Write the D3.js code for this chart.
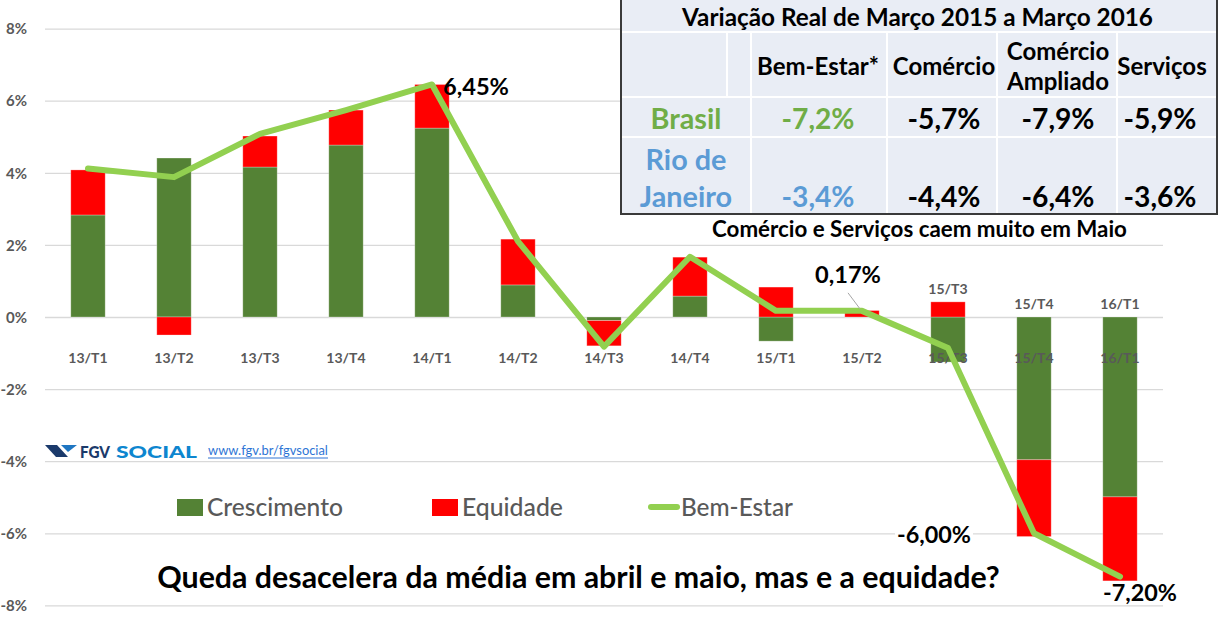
<!DOCTYPE html>
<html><head><meta charset="utf-8">
<script src="https://cdn.jsdelivr.net/npm/d3@7"></script>
<style>
html,body{margin:0;padding:0;background:#fff;}
svg{display:block;font-family:Lato,"Open Sans",sans-serif;}
</style></head><body>
<svg id="c" width="1229" height="617"></svg>
<script>
// ---------- DATA ----------
const categories = ["13/T1","13/T2","13/T3","13/T4","14/T1","14/T2","14/T3","14/T4","15/T1","15/T2","15/T3","15/T4","16/T1"];
const crescimento = [2.83, 4.41, 4.16, 4.77, 5.24, 0.89, -0.10, 0.58, -0.67, 0.00, -1.25, -3.96, -4.99];
const equidade    = [1.25, -0.50, 0.86, 0.97, 1.21, 1.27, -0.70, 1.08, 0.83, 0.18, 0.42, -2.13, -2.33];
const bemEstar    = [4.12, 3.88, 5.08, 5.74, 6.45, 2.10, -0.82, 1.67, 0.17, 0.17, -0.86, -6.00, -7.20];
const yTicks = [-8, -6, -4, -2, 0, 2, 4, 6, 8];
const seriesNames = ["Crescimento", "Equidade", "Bem-Estar"];
const labeledPoints = ["14/T1", "15/T2", "15/T4", "16/T1"];
const topLabelCats = ["15/T3", "15/T4", "16/T1"];
const tableTitle = "Variação Real de Março 2015 a Março 2016";
const tableCols = ["Bem-Estar*", "Comércio", "Comércio Ampliado", "Serviços"];
const tableRows = ["Brasil", "Rio de Janeiro"];
const brasilVals = [-7.2, -5.7, -7.9, -5.9];
const rioVals = [-3.4, -4.4, -6.4, -3.6];
const tableNote = "Comércio e Serviços caem muito em Maio";
const footerText = "Queda desacelera da média em abril e maio, mas e a equidade?";
const logoWords = ["FGV", "SOCIAL"];
const linkText = "www.fgv.br/fgvsocial";

// ---------- SETUP ----------
const svg = d3.select("#c");
const FONT = 'Lato, "Open Sans", sans-serif';
const loc = d3.formatLocale({decimal: ",", thousands: ".", grouping: [3], currency: ["R$", ""], minus: "-"});
const f2 = loc.format(".2f"), f1 = loc.format(".1f");

function fit(sel, w) {
  sel.each(function () {
    const fs = parseFloat(this.getAttribute("font-size"));
    const l = this.getComputedTextLength();
    if (l > 0) this.setAttribute("font-size", (fs * w / l).toFixed(2));
  });
  return sel;
}

const x = d3.scaleBand().domain(categories).range([45, 1163]).paddingInner(0.6).paddingOuter(0.3);
const y = d3.scaleLinear().domain([-8, 8]).range([605.4, 28.6]);
const cx = c => x(c) + x.bandwidth() / 2;

// gridlines + y labels
const gy = svg.append("g").attr("transform", "translate(45,0)")
  .call(d3.axisLeft(y).tickValues(yTicks).tickSize(-(1163 - 45)).tickFormat(d => d + "%"));
gy.attr("font-family", null).attr("font-size", null);
gy.select(".domain").remove();
gy.selectAll(".tick line").attr("stroke", "#D9D9D9").attr("stroke-width", 1.3);
gy.selectAll(".tick text").attr("x", -18).attr("dy", "0.35em")
  .attr("fill", "#595959").attr("font-size", 15).attr("font-weight", 700).attr("font-family", FONT);

// stacked bars
const stackData = categories.map((c, i) => ({cat: c, Crescimento: crescimento[i], Equidade: equidade[i]}));
const stacked = d3.stack().keys(["Crescimento", "Equidade"]).offset(d3.stackOffsetDiverging)(stackData);
const colors = {Crescimento: "#548235", Equidade: "#FF0000", "Bem-Estar": "#92D050"};
svg.append("g").selectAll("g").data(stacked).join("g").attr("fill", d => colors[d.key])
  .selectAll("rect").data(d => d).join("rect")
  .attr("x", d => x(d.data.cat)).attr("width", x.bandwidth())
  .attr("y", d => y(Math.max(d[0], d[1])))
  .attr("height", d => Math.abs(y(d[0]) - y(d[1])))
  .attr("stroke", "#ffffff").attr("stroke-opacity", 0.35).attr("stroke-width", 0.8);

// category axis labels
const gx = svg.append("g").attr("transform", "translate(0,350)")
  .call(d3.axisBottom(x).tickSize(0).tickPadding(0));
gx.attr("font-family", null).attr("font-size", null);
gx.select(".domain").remove();
gx.selectAll(".tick text").attr("y", 8).attr("dy", "0.35em")
  .attr("fill", "#595959").attr("font-size", 14).attr("font-weight", 700).attr("font-family", FONT);

// duplicated labels above last bars
svg.append("g").selectAll("text").data(topLabelCats).join("text")
  .attr("x", c => cx(c))
  .attr("y", c => {
    const i = categories.indexOf(c);
    const top = Math.max(0, stacked[0][i][1], stacked[1][i][1]);
    return y(top) - 13;
  })
  .attr("dy", "0.35em").attr("text-anchor", "middle")
  .attr("fill", "#595959").attr("font-size", 14).attr("font-weight", 700).text(c => c);

// line
const line = d3.line().x((d, i) => cx(categories[i])).y(d => y(d));
svg.append("path").datum(bemEstar).attr("d", line).attr("fill", "none")
  .attr("stroke", colors["Bem-Estar"]).attr("stroke-width", 6)
  .attr("stroke-linejoin", "round").attr("stroke-linecap", "round");

// line data labels
const lblPos = {
  "14/T1": {dx: 11, dy: 2, anchor: "start"},
  "15/T2": {dx: -14, dy: -36, anchor: "middle", leader: true},
  "15/T4": {dx: -63, dy: 2, anchor: "end", bg: true},
  "16/T1": {dx: 20, dy: 16, anchor: "middle"}
};
const gl = svg.append("g");
labeledPoints.forEach(c => {
  const i = categories.indexOf(c);
  const px = cx(c), py = y(bemEstar[i]), p = lblPos[c];
  if (p.leader) {
    gl.append("line").attr("x1", px - 14).attr("y1", py - 18).attr("x2", px - 2).attr("y2", py - 2)
      .attr("stroke", "#A6A6A6").attr("stroke-width", 1);
  }
  const t = gl.append("text").attr("x", px + p.dx).attr("y", py + p.dy).attr("dy", "0.35em")
    .attr("text-anchor", p.anchor).attr("font-size", 22).attr("font-weight", 700).attr("fill", "#000")
    .text(f2(bemEstar[i]) + "%");
  fit(t, bemEstar[i] < 0 ? 74 : 66);
  if (p.bg) {
    const b = t.node().getBBox();
    gl.insert("rect", () => t.node()).attr("x", b.x - 2).attr("y", b.y + 2).attr("width", b.width + 4)
      .attr("height", b.height - 4).attr("fill", "#fff");
  }
});

// legend
const lg = svg.append("g");
lg.append("rect").attr("x", 177).attr("y", 499).attr("width", 26).attr("height", 17).attr("fill", colors.Crescimento);
lg.append("rect").attr("x", 432).attr("y", 499).attr("width", 26).attr("height", 17).attr("fill", colors.Equidade);
lg.append("line").attr("x1", 651).attr("x2", 677).attr("y1", 507).attr("y2", 507)
  .attr("stroke", colors["Bem-Estar"]).attr("stroke-width", 6).attr("stroke-linecap", "round");
const legX = [207, 462, 681], legW = [136, 101, 112];
seriesNames.forEach((s, k) => {
  fit(lg.append("text").attr("x", legX[k]).attr("y", 507).attr("dy", "0.35em")
    .attr("font-size", 24).attr("font-weight", 500).attr("fill", "#595959").text(s), legW[k]);
});

// logo
const lo = svg.append("g");
lo.append("polygon").attr("points", "45,445 57,445 68,457 56,457").attr("fill", "#1B3A6B");
lo.append("polygon").attr("points", "61,445 77,445 68,452").attr("fill", "#1F76C2");
lo.append("text").attr("x", 80).attr("y", 457.5).attr("font-size", 17).attr("font-weight", 900)
  .attr("fill", "#1B3A6B").attr("textLength", 30).attr("lengthAdjust", "spacingAndGlyphs").text(logoWords[0]);
lo.append("text").attr("x", 116).attr("y", 457.5).attr("font-size", 17).attr("font-weight", 900)
  .attr("fill", "#0D86CF").attr("textLength", 81).attr("lengthAdjust", "spacingAndGlyphs").text(logoWords[1]);
fit(lo.append("text").attr("x", 208).attr("y", 455).attr("font-size", 13)
  .attr("fill", "#2E75D5").text(linkText), 120);
lo.append("line").attr("x1", 208).attr("x2", 328).attr("y1", 458).attr("y2", 458).attr("stroke", "#2E75D5").attr("stroke-width", 1);

// footer
fit(svg.append("text").attr("x", 578.5).attr("y", 577).attr("dy", "0.35em").attr("text-anchor", "middle")
  .attr("font-size", 28).attr("font-weight", 700).attr("fill", "#000").text(footerText), 843);

// ---------- TABLE ----------
const tb = svg.append("g");
const colEdges = [621, 751, 887, 997, 1117, 1217];
tb.append("rect").attr("x", 621).attr("y", 0).attr("width", 596).attr("height", 214).attr("fill", "#E9EDF5");
[32, 97, 137].forEach(yy => tb.append("line").attr("x1", 621).attr("x2", 1217).attr("y1", yy).attr("y2", yy)
  .attr("stroke", "#fff").attr("stroke-width", 2));
colEdges.slice(1, -1).forEach(xx => tb.append("line").attr("x1", xx).attr("x2", xx).attr("y1", 32).attr("y2", 214)
  .attr("stroke", "#fff").attr("stroke-width", 2));
tb.append("line").attr("x1", 727).attr("x2", 727).attr("y1", 32).attr("y2", 97).attr("stroke", "#fff").attr("stroke-width", 2);
tb.append("path").attr("d", "M621,0 V214 H1217 V0").attr("fill", "none").attr("stroke", "#3A3A3A").attr("stroke-width", 2);

fit(tb.append("text").attr("x", 917.5).attr("y", 17).attr("dy", "0.35em").attr("text-anchor", "middle")
  .attr("font-size", 21).attr("font-weight", 700).attr("fill", "#000").text(tableTitle), 471);

const wrap = {"Comércio Ampliado": ["Comércio", "Ampliado"], "Rio de Janeiro": ["Rio de", "Janeiro"]};
const colCx = [818, 944, 1058, 1162];
const headW = {"Bem-Estar*": 122};
let headFs = null;
tableCols.forEach((c, k) => {
  const lines = wrap[c] || [c];
  lines.forEach((ln, j) => {
    const yy = lines.length === 1 ? 67 : (j === 0 ? 52 : 82);
    const t = tb.append("text").attr("x", colCx[k]).attr("y", yy).attr("dy", "0.35em").attr("text-anchor", "middle")
      .attr("font-size", 19).attr("font-weight", 700).attr("fill", "#000").text(ln);
    if (k === 0) { fit(t, headW[ln]); headFs = t.attr("font-size"); } else t.attr("font-size", headFs);
  });
});

const rowColors = ["#70AD47", "#5B9BD5"];
const rowVals = [brasilVals, rioVals];
const rowY = [119, 197];
let valFs = null, rowFs = null;
tableRows.forEach((r, ri) => {
  const lines = wrap[r] || [r];
  lines.forEach((ln, j) => {
    const yy = lines.length === 1 ? rowY[ri] : (j === 0 ? 160 : 197);
    const t = tb.append("text").attr("x", 686).attr("y", yy).attr("dy", "0.35em").attr("text-anchor", "middle")
      .attr("font-size", 25).attr("font-weight", 700).attr("fill", rowColors[ri]).text(ln);
    if (rowFs === null) { fit(t, 71); rowFs = t.attr("font-size"); } else t.attr("font-size", rowFs);
  });
  rowVals[ri].forEach((v, k) => {
    const t = tb.append("text").attr("x", k === 3 ? 1160 : colCx[k]).attr("y", rowY[ri]).attr("dy", "0.35em")
      .attr("text-anchor", "middle").attr("font-size", 28).attr("font-weight", 700)
      .attr("fill", k === 0 ? rowColors[ri] : "#000").text(f1(v) + "%");
    if (valFs === null) { fit(t, 73); valFs = t.attr("font-size"); } else t.attr("font-size", valFs);
  });
});

fit(svg.append("text").attr("x", 919.5).attr("y", 229).attr("dy", "0.35em").attr("text-anchor", "middle")
  .attr("font-size", 17).attr("font-weight", 700).attr("fill", "#000").text(tableNote), 415);
</script>
</body></html>
